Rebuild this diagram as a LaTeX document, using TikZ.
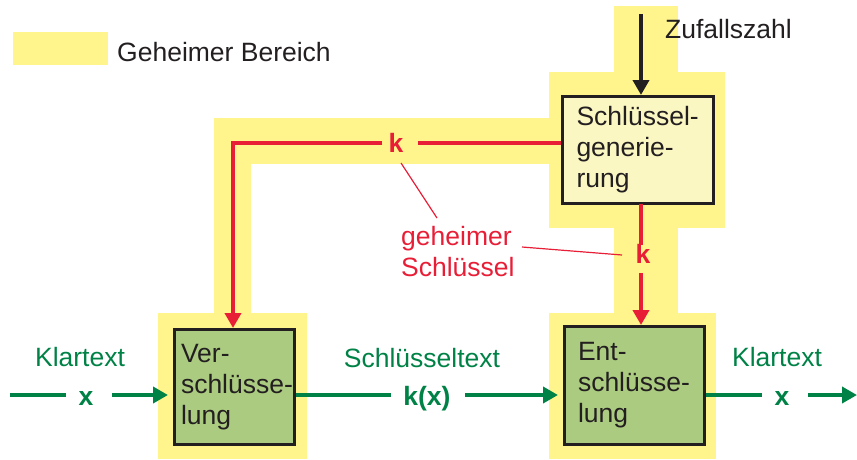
\documentclass[tikz,border=0pt]{standalone}
\usepackage{fontspec}
\setmainfont{Liberation Sans}
\usetikzlibrary{arrows.meta}
\definecolor{secret}{RGB}{255,245,140}
\definecolor{genfill}{RGB}{251,247,195}
\definecolor{boxgreen}{RGB}{171,203,128}
\definecolor{ink}{RGB}{35,31,32}
\definecolor{keyred}{RGB}{232,30,55}
\definecolor{flowgreen}{RGB}{0,130,70}
\begin{document}
\begin{tikzpicture}[x=1pt,y=-1pt,
  every node/.style={font=\fontsize{26.5}{31}\selectfont, inner sep=0pt, text=ink},
  zone/.style={fill=secret, draw=none},
  procbox/.style={draw=ink, line width=3pt, align=left, inner ysep=0pt},
  tip/.style={-{Triangle[length=15pt,width=16pt]}},
  keyline/.style={draw=keyred, line width=4pt},
  flowline/.style={draw=flowgreen, line width=4pt},
  randline/.style={draw=ink, line width=4pt},
  leader/.style={draw=keyred, line width=1.2pt},
  keylabel/.style={text=keyred, font=\fontsize{26.5}{31}\selectfont\bfseries},
  flowlabel/.style={text=flowgreen},
  flowvar/.style={text=flowgreen, font=\fontsize{26.5}{31}\selectfont\bfseries, anchor=base}]
\useasboundingbox (0,0) rectangle (857,459);

% secret zones
\fill[zone] (13,32) rectangle (108,65);
\fill[zone] (614,6) rectangle (678,72);
\fill[zone] (549,72) rectangle (725,228);
\fill[zone] (214,118) rectangle (549,164);
\fill[zone] (214,118) rectangle (251,313);
\fill[zone] (158,313) rectangle (307,459);
\fill[zone] (614,228) rectangle (678,313);
\fill[zone] (549,313) rectangle (716,459);

\node[anchor=west] (leg) at (117,52) {Geheimer Bereich};

% process boxes
\node[procbox, fill=genfill, minimum width=151pt, minimum height=107pt,
      text width=123pt, inner xsep=14pt] (gen) at (638,150)
  {Schlüssel-\\generie-\\rung};
\node[procbox, fill=boxgreen, minimum width=120pt, minimum height=115pt,
      text width=118pt, inner xsep=1pt] (ver) at (234.5,387)
  {\hspace*{5.5pt}Ver-\\\hspace*{5.5pt}schlüsse-\\\hspace*{5.5pt}lung};
\node[procbox, fill=boxgreen, minimum width=140pt, minimum height=118pt,
      text width=113pt, inner xsep=13.5pt] (ent) at (634.5,385.5)
  {Ent-\\schlüsse-\\lung};

% random number input
\node[anchor=west] (zuf) at (665,29) {Zufallszahl};
\coordinate (zs) at (641,14);
\draw[randline, tip] (zs) -- (zs |- gen.north);

% secret key paths
\node[keylabel, anchor=base] (kT) at (396,152) {k};
\node[keylabel, anchor=base] (kV) at (643,263) {k};
\coordinate (genL) at (gen.west |- 0,143);
\draw[keyline] (genL) -- (418,143);
\draw[keyline, tip] (382,143) -| (233,328);
\coordinate (genB) at (641,203.5);
\draw[keyline] (genB) -- (641,245);
\draw[keyline, tip] (641,273) -- (641,325);

\node[text=keyred, align=left, anchor=north west] (geh) at (401,226) {geheimer\\Schlüssel};
\coordinate (l1a) at (401,163);
\coordinate (l1b) at (437,218);
\coordinate (l2a) at (522,247);
\coordinate (l2b) at (622,255);
\draw[leader] (l1a) -- (l1b);
\draw[leader] (l2a) -- (l2b);

% data flow
\node[flowlabel] (klL) at (80,357.5) {Klartext};
\node[flowlabel] (sct) at (422,358) {Schlüsseltext};
\node[flowlabel] (klR) at (777,357.5) {Klartext};
\node[flowvar] (xL) at (86,405) {x};
\node[flowvar] (kx) at (427,405) {k(x)};
\node[flowvar] (xR) at (782,405) {x};

\coordinate (inS) at (10,395);
\coordinate (outE) at (857,395);
\draw[flowline] (inS) -- (66,395);
\draw[flowline, tip, shorten >=5pt] (112,395) -- (ver.west |- 0,395);
\draw[flowline] (ver.east |- 0,395) -- (391,395);
\draw[flowline, tip, shorten >=5pt] (465,395) -- (ent.west |- 0,395);
\draw[flowline] (ent.east |- 0,395) -- (762,395);
\draw[flowline, tip] (808,395) -- (outE);
\end{tikzpicture}
\end{document}
